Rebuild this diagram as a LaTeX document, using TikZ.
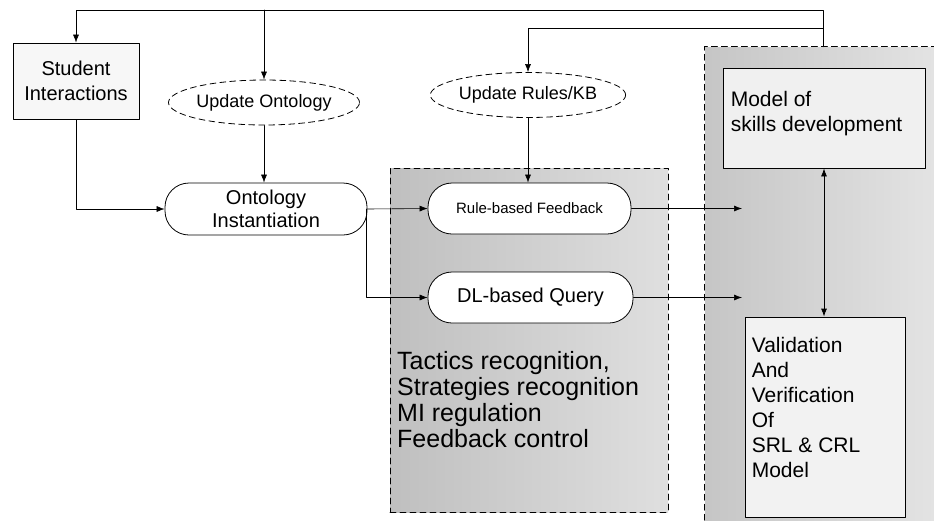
\documentclass[tikz,border=0pt]{standalone}
\usepackage{fontspec}
\setmainfont{Liberation Sans}
\usetikzlibrary{shapes.geometric, arrows.meta, positioning}

\begin{document}
\begin{tikzpicture}[x=1pt, y=-1pt, line cap=round, line join=round, >={Latex[length=8pt,width=6pt]},
    box/.style={draw, thick, rectangle, inner sep=0pt},
    boxtext/.style={anchor=north west, inner sep=0pt, align=left},
    pill/.style={draw, thick, fill=white, rectangle, rounded corners=24pt, inner sep=0pt, minimum width=203pt, minimum height=51pt},
    cloud/.style={draw, thick, dash pattern=on 6pt off 4pt, ellipse, inner sep=0pt, minimum width=177pt, minimum height=45pt, font=\fontsize{18}{20}\selectfont},
    region/.style={rectangle, inner sep=0pt},
    link/.style={->, semithick}]

    % Canvas
    \useasboundingbox (0,0) rectangle (934,520);

    % Shaded regions (right region runs off the page)
    \node[region, left color=gray!45, right color=gray!22, minimum width=229pt, minimum height=473pt] (rightreg) at (819.5,283.5) {};
    \draw[thick, dash pattern=on 6pt off 4pt] (rightreg.south west) -- (rightreg.north west) -- (rightreg.north east);
    \node[region, draw, thick, dash pattern=on 6pt off 4pt, left color=gray!50, right color=gray!25, minimum width=278pt, minimum height=344pt] (midreg) at (529,340) {};

    % Boxes
    \node[box, fill=gray!6, minimum width=126pt, minimum height=76pt, align=center, font=\fontsize{20}{25}\selectfont] (student) at (76,81) {Student\\Interactions};
    \node[cloud] (upont) at (264,102.5) {Update Ontology};
    \node[cloud] (uprules) at (528,95) {Update Rules/KB};
    \node[pill, minimum width=202pt, minimum height=52pt, align=center, font=\fontsize{20}{23}\selectfont] (ontinst) at (266,209) {Ontology\\Instantiation};
    \node[pill, font=\fontsize{15}{17}\selectfont] (rulefb) at (529.5,208.5) {Rule-based Feedback};
    \node[pill, minimum width=205pt, font=\fontsize{20}{23}\selectfont] (dlq) at (530.5,297.5) {DL-based Query};
    \node[box, fill=gray!12, minimum width=202pt, minimum height=100pt] (model) at (824,118) {};
    \node[box, fill=gray!10, minimum width=160pt, minimum height=200pt] (valid) at (825,417) {};

    % Box texts (set high in the boxes)
    \node[boxtext, font=\fontsize{21}{25}\selectfont] (modeltext) at ([xshift=8pt, yshift=-23pt]model.north west) {Model of\\skills development};
    \node[boxtext, font=\fontsize{21}{25}\selectfont] (validtext) at ([xshift=7pt, yshift=-20pt]valid.north west) {Validation\\And\\Verification\\Of\\SRL \& CRL\\Model};

    % Region label
    \node[boxtext, font=\fontsize{25}{26}\selectfont] (tactics) at (397,351) {Tactics recognition,\\Strategies recognition\\MI regulation\\Feedback control};

    % Feedback loops along the top
    \coordinate (looptop) at (823,10);
    \coordinate (loopmid) at (823,28);
    \draw[link] (rightreg.north -| looptop) -- (looptop) -| (student.north);
    \draw[link] (looptop -| upont.north) -- (upont.north);
    \draw[link] (loopmid) -| (uprules.north);

    % Flow
    \draw[link] (student.south) |- (ontinst.west);
    \draw[link] (upont.south) -- (upont.south |- ontinst.north);
    \draw[link] (uprules.south) -- (uprules.south |- rulefb.north);
    \draw[link] (ontinst.east) -- (rulefb.west);
    \coordinate (split) at (366,209);
    \draw[link] (split) |- (dlq.west);

    % Into the right region
    \coordinate (rfend) at (742,208.5);
    \coordinate (dqend) at (742,297.5);
    \draw[link] (rulefb.east) -- (rfend);
    \draw[link] (dlq.east) -- (dqend);
    \draw[<->, thick] (model.south) -- (model.south |- valid.north);

\end{tikzpicture}
\end{document}
